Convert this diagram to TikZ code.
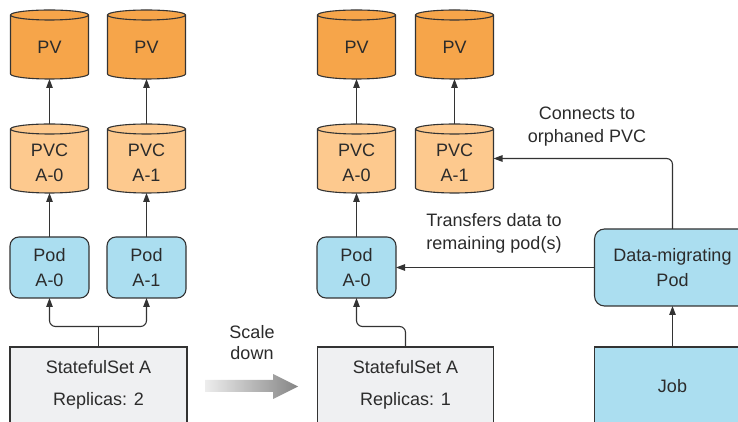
\documentclass[tikz,border=0pt]{standalone}
\usepackage{fontspec}
\setmainfont{Liberation Sans}
\usetikzlibrary{arrows.meta,backgrounds,calc}
\definecolor{pvc}{HTML}{F6A54A}
\definecolor{pvcc}{HTML}{FDC98E}
\definecolor{podc}{HTML}{ABDEF0}
\definecolor{ssc}{HTML}{EFF0F2}
\definecolor{linec}{HTML}{333333}
\definecolor{textc}{HTML}{2B2B2B}
\definecolor{shl}{HTML}{EDEDED}
\definecolor{shr}{HTML}{858585}
\newcommand\mycyl[2]{%
  \path[draw=linec, line width=1.1pt, fill=#2]
    ($(#1.north west)+(0,-5)$) -- ($(#1.south west)+(0,5)$)
    arc[start angle=180,end angle=360,x radius=39pt,y radius=5pt]
    -- ($(#1.north east)+(0,-5)$)
    arc[start angle=0,end angle=180,x radius=39pt,y radius=5pt] -- cycle;
  \draw[draw=linec, line width=1.1pt] ($(#1.north west)+(0,-5)$)
    arc[start angle=180,end angle=360,x radius=39pt,y radius=5pt];}
\begin{document}
\begin{tikzpicture}[x=1pt,y=1pt,
  line/.style={draw=linec, line width=1.1pt},
  arr/.style={line, -{Triangle[length=9pt,width=6.5pt]}},
  cylnode/.style={minimum width=78pt, minimum height=69pt, inner sep=0pt, outer sep=0pt},
  txt/.style={font=\fontsize{18}{25}\selectfont, text=textc, align=center, inner sep=0pt},
  podbox/.style={draw=linec, line width=1.1pt, fill=podc, rounded corners=9pt,
    minimum width=79pt, minimum height=61pt, inner sep=0pt, outer sep=0pt,
    font=\fontsize{18}{25}\selectfont, text=textc, align=center},
  ssbox/.style={draw=linec, line width=1.1pt, fill=ssc, minimum height=76pt,
    inner sep=0pt, outer sep=0pt, font=\fontsize{18}{32}\selectfont, text=textc, align=center},
  lbl/.style={font=\fontsize{18}{23}\selectfont, text=textc, align=center, inner sep=0pt}
]
\useasboundingbox (0,0) rectangle (738,422);
\begin{scope}
\clip (0,0) rectangle (738,422);

% left group
\node[cylnode] (pvL0) at (49.5,377.5) {};
\node[cylnode] (pvL1) at (146.5,377.5) {};
\node[cylnode] (pvcL0) at (49.5,263.5) {};
\node[cylnode] (pvcL1) at (146.5,263.5) {};
\node[txt] (tpvL0) at (49.5,374.5) {PV};
\node[txt] (tpvL1) at (146.5,374.5) {PV};
\node[txt] (tpvcL0) at (49.5,259) {PVC\\A-0};
\node[txt] (tpvcL1) at (146.5,259) {PVC\\A-1};
\node[podbox] (podL0) at (49.5,154.5) {Pod\\A-0};
\node[podbox] (podL1) at (146.5,154.5) {Pod\\A-1};
\node[ssbox, minimum width=177pt] (ssL) at (98.5,37) {StatefulSet A\\Replicas: 2};

% right group
\node[cylnode] (pvR0) at (356.5,377.5) {};
\node[cylnode] (pvR1) at (454.5,377.5) {};
\node[cylnode] (pvcR0) at (356.5,263.5) {};
\node[cylnode] (pvcR1) at (454.5,263.5) {};
\node[txt] (tpvR0) at (356.5,374.5) {PV};
\node[txt] (tpvR1) at (454.5,374.5) {PV};
\node[txt] (tpvcR0) at (356.5,259) {PVC\\A-0};
\node[txt] (tpvcR1) at (454.5,259) {PVC\\A-1};
\node[podbox] (podR0) at (356.5,154.5) {Pod\\A-0};
\node[ssbox, minimum width=176pt] (ssR) at (405.5,37) {StatefulSet A\\Replicas: 1};

\node[podbox, minimum width=156pt, minimum height=77pt, rounded corners=10pt] (dmp) at (672.5,154.5) {Data-migrating\\Pod};
\node[ssbox, fill=podc, minimum width=156pt, minimum height=78pt, font=\fontsize{18}{25}\selectfont] (job) at (672.5,36) {Job};

\begin{scope}[on background layer]
\mycyl{pvL0}{pvc}
\mycyl{pvL1}{pvc}
\mycyl{pvcL0}{pvcc}
\mycyl{pvcL1}{pvcc}
\mycyl{pvR0}{pvc}
\mycyl{pvR1}{pvc}
\mycyl{pvcR0}{pvcc}
\mycyl{pvcR1}{pvcc}
\end{scope}

% connectors
\draw[arr] (pvcL0.north) -- (pvL0.south);
\draw[arr] (pvcL1.north) -- (pvL1.south);
\draw[arr] (podL0.north) -- (pvcL0.south);
\draw[arr] (podL1.north) -- (pvcL1.south);
\draw[arr] (pvcR0.north) -- (pvR0.south);
\draw[arr] (pvcR1.north) -- (pvR1.south);
\draw[arr] (podR0.north) -- (pvcR0.south);

\coordinate (jL) at (98.5,95.5);
\draw[line] (ssL.north) -- (jL);
\draw[arr, rounded corners=6pt] (jL) -| (podL0.south);
\draw[arr, rounded corners=6pt] (jL) -| (podL1.south);
\draw[arr, rounded corners=6pt] (ssR.north) |- ($(podR0.south)+(0,-28.5)$) -- (podR0.south);

\draw[arr] (job.north) -- (dmp.south);
\draw[arr, rounded corners=6pt] (dmp.north) |- (pvcR1.east);
\draw[arr] (dmp.west) -- (podR0.east);

% labels
\node[lbl] (lconn) at (587,295.5) {Connects to\\orphaned PVC};
\node[lbl] (ltrans) at (494,188.5) {Transfers data to\\remaining pod(s)};
\node[lbl, font=\fontsize{18}{21}\selectfont] (lscale) at (252,79.5) {Scale\\down};

% scale down arrow
\shade[left color=shl, right color=shr]
  (205,30) -- (273,30) -- (273,23) -- (298,35.5) -- (273,48) -- (273,42) -- (205,42) -- cycle;
\end{scope}
\end{tikzpicture}
\end{document}
